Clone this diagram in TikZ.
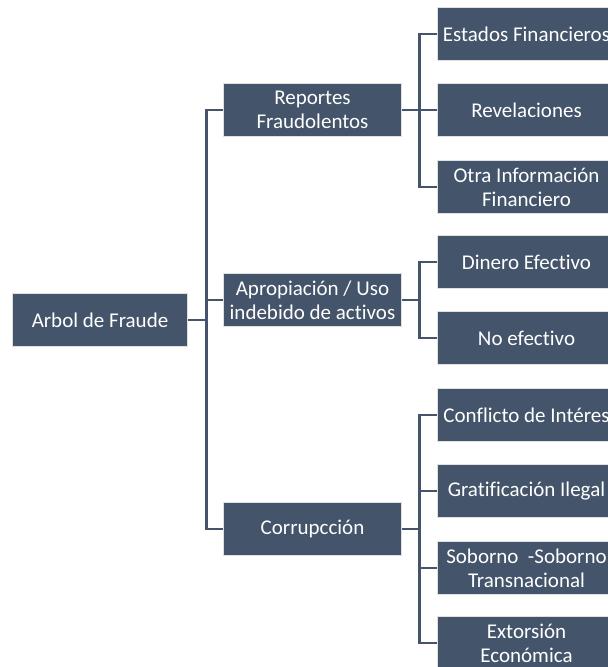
\documentclass[tikz,border=0pt]{standalone}
\usepackage{fontspec}
\setmainfont[Ligatures=NoCommon]{Carlito}
\definecolor{slate}{HTML}{44546A}
\definecolor{rim}{HTML}{E0E0E0}

\begin{document}
\begin{tikzpicture}[x=1pt, y=1pt,
    fbox/.style={fill=slate, draw=rim, line width=1.8pt, text=white, align=center,
      minimum height=53pt, inner sep=0pt, font=\fontsize{21}{24}\selectfont},
    rootbox/.style={fbox, minimum width=175pt},
    catbox/.style={fbox, minimum width=178pt},
    leafbox/.style={fbox, minimum width=178pt},
    conn/.style={draw=slate, line width=2.6pt}]
    \useasboundingbox (0,0) rectangle (608,-667);
    \clip (0,0) rectangle (608,-667);
    % raiz
    \node[rootbox] (arbol) at (100,-320) {Arbol de Fraude};
    % primer nivel
    \node[catbox] (reportes) at (312.5,-110) {Reportes\\Fraudolentos};
    \node[catbox] (apropiacion) at (312.5,-300) {Apropiación / Uso\\indebido de activos};
    \node[catbox] (corrupcion) at (312.5,-529) {Corrupcción};
    % segundo nivel
    \node[leafbox] (estados) at (526.5,-34) {Estados Financieros};
    \node[leafbox] (revelaciones) at (526.5,-110) {Revelaciones};
    \node[leafbox] (otra) at (526.5,-187) {Otra Información\\Financiero};
    \node[leafbox] (dinero) at (526.5,-262) {Dinero Efectivo};
    \node[leafbox] (noefectivo) at (526.5,-338) {No efectivo};
    \node[leafbox] (conflicto) at (526.5,-415) {Conflicto de Intéres};
    \node[leafbox] (gratificacion) at (526.5,-491) {Gratificación Ilegal};
    \node[leafbox] (soborno) at (526.5,-568) {Soborno\ \ -Soborno\\Transnacional};
    \node[leafbox] (extorsion) at (526.5,-643) {Extorsión\\Económica};
    % conectores
    \foreach \c in {reportes, apropiacion, corrupcion}
        \draw[conn] (arbol.east) -- ++(18,0) |- (\c.west);
    \foreach \c in {estados, revelaciones, otra}
        \draw[conn] (reportes.east) -- ++(17,0) |- (\c.west);
    \foreach \c in {dinero, noefectivo}
        \draw[conn] (apropiacion.east) -- ++(17,0) |- (\c.west);
    \foreach \c in {conflicto, gratificacion, soborno, extorsion}
        \draw[conn] (corrupcion.east) -- ++(17,0) |- (\c.west);
\end{tikzpicture}
\end{document}
